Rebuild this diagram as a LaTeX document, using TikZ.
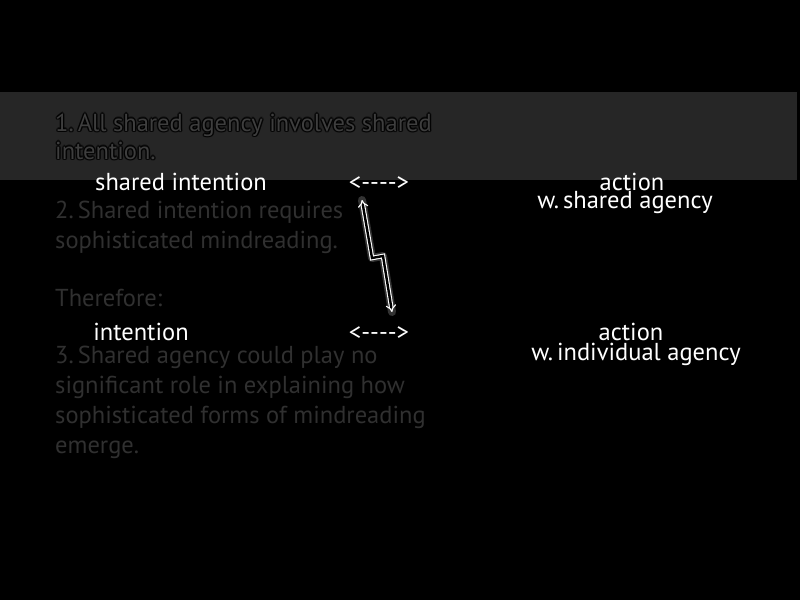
\documentclass[tikz,border=0pt]{standalone}
\usepackage{fontspec}
\setmainfont{PT Sans}
\usepackage{xcolor}
\usetikzlibrary{arrows.meta}
\definecolor{bandgray}{RGB}{38,38,38}
\definecolor{dimgray}{RGB}{48,48,48}
\definecolor{bandtext}{RGB}{62,62,62}
\tikzset{
    premise/.style={anchor=base west, inner sep=0, align=left, dimgray},
    label/.style={anchor=base, inner sep=0, white},
    zigzag/.style={double=black, draw=white, double distance=2.4pt, line width=1.1pt, line join=miter, {Implies[length=9pt, width=12pt]}-{Implies[length=9pt, width=12pt]}}
}
\begin{document}
\begin{tikzpicture}[x=1pt, y=-1pt, font=\fontsize{24.5}{30}\selectfont]
                % background
                \fill[black] (0,0) rectangle (800,600);
                \useasboundingbox (0,0) rectangle (800,600);
                \fill[bandgray] (0,92) rectangle (797,180);
                
                % premise 1 with its dark glow
                \foreach \dx/\dy in {-1.5/0,1.5/0,0/-1.5,0/1.5,-1/-1,1/1,-1/1,1/-1}
                \node[premise, black, opacity=0.6] at (55+\dx,131+\dy) {1.\,All shared agency involves shared};
                \foreach \dx/\dy in {-1.5/0,1.5/0,0/-1.5,0/1.5,-1/-1,1/1,-1/1,1/-1}
                \node[premise, black, opacity=0.6] at (55+\dx,159+\dy) {intention.};
                \node[premise, bandtext] (p1a) at (55,131) {1.\,All shared agency involves shared};
                \node[premise, bandtext] (p1b) at (55,159) {intention.};
                
                % premise 2, conclusion
                \node[premise] (p2a) at (55,218) {2.\,Shared intention requires};
                \node[premise] (p2b) at (55,248) {sophisticated mindreading.};
                \node[premise] (thf) at (55,306) {Therefore:};
                \node[premise] (p3a) at (55,363) {3.\,Shared agency could play no};
                \node[premise] (p3b) at (55,393) {significant role in explaining how};
                \node[premise] (p3c) at (55,423) {sophisticated forms of mindreading};
                \node[premise] (p3d) at (55,453) {emerge.};
                
                % top row
                \node[label] (shint) at (181,190) {shared intention};
                \node[label] (arrA) at (379,190) {<{-}{-}{-}{-}>};
                \node[label] (actA) at (632,190) {action};
                \node[label] (wsh) at (625,208) {w.\,shared agency};
                
                % bottom row
                \node[label] (int) at (141,340) {intention};
                \node[label] (arrB) at (379,340) {<{-}{-}{-}{-}>};
                \node[label] (actB) at (631,340) {action};
                \node[label] (wind) at (636,360) {w.\,individual agency};
                
                % zigzag double arrow
                \coordinate (tipA) at ([xshift=-17pt,yshift=-10pt]arrA.base);
                \coordinate (kinkA) at (372,258);
                \coordinate (kinkB) at (383,256);
                \coordinate (tipB) at ([xshift=13pt,yshift=28pt]arrB.base);
                \draw[white, opacity=0.2, line width=8pt, line join=round, line cap=round]
                    (tipA) -- (kinkA) -- (kinkB) -- (tipB);
                \draw[zigzag] (tipA) -- (kinkA) -- (kinkB) -- (tipB);
            \end{tikzpicture}
\end{document}
